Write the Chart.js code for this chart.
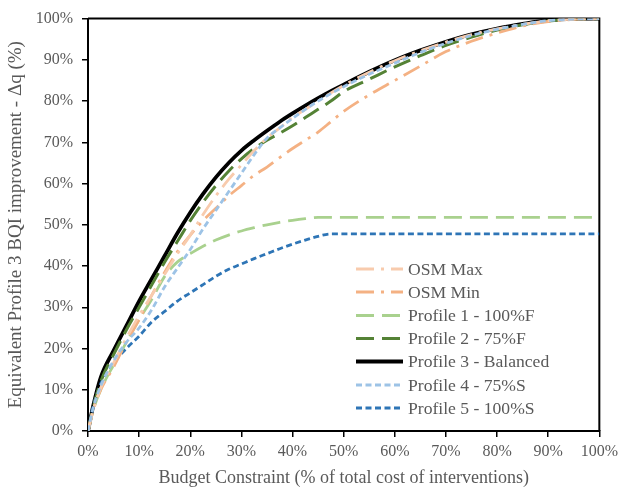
<!DOCTYPE html>
<html>
<head>
<meta charset="utf-8">
<script src="https://cdn.jsdelivr.net/npm/chart.js@4/dist/chart.umd.min.js"></script>
<style>
html,body{margin:0;padding:0;background:#fff;}
#wrap{width:623px;height:489px;position:relative;}
</style>
</head>
<body>
<div id="wrap"><canvas id="c" width="623" height="489"></canvas></div>
<script>
// Budget constraint (% of total cost) – common x grid
const budgetPct = [0,1,2.5,5,7.5,10,12.5,15,17.5,20,22.5,25,27.5,30,32.5,35,37.5,40,42.5,45,47.5,50,55,60,65,70,75,80,85,90,95,100];

const osmMax   = [0,5,10.5,16.5,22.5,28,33,38,43,47.5,52.5,57,61,64.5,68,71,73.5,76,78,80,82,83.8,87,89.8,92.2,94.3,96.1,97.5,98.6,99.5,99.9,100];
const osmMin   = [0,5,10,15.5,21.5,27,33,38.5,43.5,47.5,51,54,57,59.5,62,64,66.3,68.5,70.5,72.5,75,77.5,81.5,85,88.5,92,94.5,96.5,98.2,99.3,99.8,100];
const profile1 = [0,5,10,16,21.5,27,32,37.5,41,43,44.8,46.3,47.5,48.5,49.3,50,50.6,51.1,51.5,51.8,51.8,51.8,51.8,51.8,51.8,51.8,51.8,51.8,51.8,51.8,51.8,51.8];
const profile2 = [0,5.5,12,18.5,24.5,30,35.5,41,46,51,55.5,59.5,63,66,68.5,70.5,72.2,74,76,78,80,82.3,85.3,88.3,91,93.5,95.5,97.2,98.5,99.4,99.9,100];
const profile3 = [0,6,13,19.5,25.5,31.5,37,42.5,48,53,57.5,61.5,65,68,70.5,72.8,75,77,78.9,80.7,82.4,84,87.1,89.9,92.3,94.4,96.2,97.6,98.7,99.6,99.95,100];
const profile4 = [0,5.5,11,17,21.5,25,29.5,35,39.5,44,49,53.5,58,62.5,67,71,73.5,75.8,78,80,81.8,83.5,86.5,89.2,91.8,94,95.9,97.4,98.6,99.5,99.9,100];
const profile5 = [0,6,11.5,16.5,20,23,26.5,29,31.5,33.5,35.5,37.5,39.2,40.5,41.8,43,44.2,45.3,46.3,47.2,47.8,47.8,47.8,47.8,47.8,47.8,47.8,47.8,47.8,47.8,47.8,47.8];

const seriesNames = ['OSM Max','OSM Min','Profile 1 - 100%F','Profile 2 - 75%F','Profile 3 - Balanced','Profile 4 - 75%S','Profile 5 - 100%S'];
const tickValues = [0,10,20,30,40,50,60,70,80,90,100];

const toPts = arr => arr.map((v,i)=>({x: budgetPct[i], y: v}));

const styles = [
  {color:'#F8CBAD', dash:[18,7,3,7], w:2.8, order:2},
  {color:'#F4B183', dash:[18,7,3,7], w:2.8, order:3},
  {color:'#A9D18E', dash:[18,8], w:2.8, order:5},
  {color:'#548235', dash:[18,8], w:3, order:4},
  {color:'#000000', dash:[], w:3.8, order:9},
  {color:'#9DC3E6', dash:[6,3.5], w:2.8, order:1},
  {color:'#2E75B6', dash:[6,3.5], w:2.8, order:6},
];
const values = [osmMax, osmMin, profile1, profile2, profile3, profile4, profile5];

const datasets = values.map((v,i)=>({
  label: seriesNames[i],
  data: toPts(v),
  borderColor: styles[i].color,
  backgroundColor: styles[i].color,
  borderWidth: styles[i].w,
  borderDash: styles[i].dash,
  pointRadius: 0,
  fill: false,
  cubicInterpolationMode: 'monotone',
  order: styles[i].order,
  borderCapStyle: 'butt'
}));

const frame = {
  id:'frame',
  beforeDatasetsDraw(chart){
    const {ctx, chartArea:a} = chart;
    ctx.save();
    ctx.strokeStyle = '#000';
    ctx.lineWidth = 2;
    ctx.beginPath();
    ctx.moveTo(a.left, a.top); ctx.lineTo(a.right, a.top); ctx.lineTo(a.right, a.bottom);
    ctx.stroke();
    ctx.restore();
  }
};

const legendPlugin = {
  id:'customLegend',
  afterDraw(chart){
    const ctx = chart.ctx;
    ctx.save();
    const x0 = 356, x1 = 403, tx = 408;
    const rows = [269, 292, 315.5, 338.5, 361.5, 385, 408];
    ctx.font = '17.6px "Liberation Serif", "Times New Roman", serif';
    ctx.textBaseline = 'middle';
    ctx.textAlign = 'left';
    seriesNames.forEach((name,i)=>{
      const s = styles[i];
      ctx.strokeStyle = s.color;
      ctx.lineWidth = i===4 ? 4.2 : 3.2;
      ctx.setLineDash(s.dash);
      ctx.beginPath();
      ctx.moveTo(x0, rows[i]); ctx.lineTo(x1, rows[i]);
      ctx.stroke();
      ctx.setLineDash([]);
      ctx.fillStyle = '#595959';
      ctx.fillText(name, tx, rows[i]+1);
    });
    ctx.restore();
  }
};

const font = {family:'"Liberation Serif", "Times New Roman", serif', size:16};

new Chart(document.getElementById('c'), {
  type:'line',
  data:{datasets},
  plugins:[frame, legendPlugin],
  options:{
    responsive:false,
    animation:false,
    layout:{padding:{left:0, right:21, top:17, bottom:0}},
    plugins:{legend:{display:false}, tooltip:{enabled:false}},
    scales:{
      x:{
        type:'linear', min:0, max:100,
        afterBuildTicks(s){ s.ticks = tickValues.map(v=>({value:v})); },
        afterFit(s){ s.height = 58; },
        ticks:{callback:v=>v+'%', color:'#595959', font, padding:5, maxRotation:0, autoSkip:false},
        grid:{drawOnChartArea:false, drawTicks:true, tickLength:6, color:'#000', lineWidth:1.5},
        border:{display:true, color:'#000', width:2},
        title:{display:true, text:'Budget Constraint (% of total cost of interventions)', color:'#595959',
               font:{family:font.family, size:18}, padding:{top:4, bottom:0}}
      },
      y:{
        type:'linear', min:0, max:100,
        afterBuildTicks(s){ s.ticks = tickValues.map(v=>({value:v})); },
        afterFit(s){ s.width = 88; },
        ticks:{callback:v=>v+'%', color:'#595959', font, padding:9},
        grid:{drawOnChartArea:false, drawTicks:true, tickLength:6, color:'#000', lineWidth:1.5},
        border:{display:true, color:'#000', width:2},
        title:{display:true, text:'Equivalent Profile 3 BQI improvement - Δq (%)', color:'#595959',
               font:{family:font.family, size:19}, padding:{top:5, bottom:3}}
      }
    }
  }
});
</script>
</body>
</html>
